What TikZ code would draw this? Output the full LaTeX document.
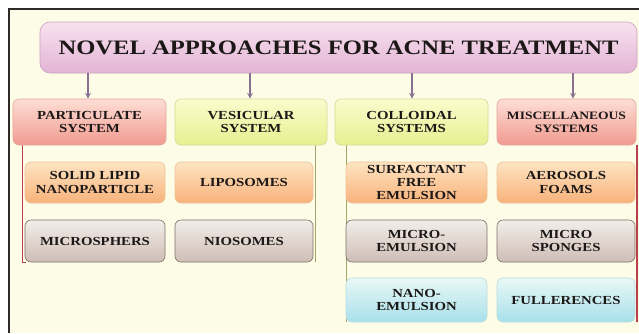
\documentclass[tikz,border=0pt]{standalone}
\usepackage{fontspec}
\usepackage{xcolor}
\usepackage{tikz}
\usetikzlibrary{backgrounds}
\newfontfamily\boxfont{Liberation Serif}[FakeStretch=1.2]
\definecolor{CreamBg}{HTML}{FDFCE6}
\definecolor{FrameDark}{HTML}{2E2A28}
\definecolor{TextDark}{HTML}{1C1818}
\definecolor{TitleTop}{HTML}{F8E2EF}
\definecolor{TitleBot}{HTML}{E2B4D4}
\definecolor{TitleRim}{HTML}{C9A3C0}
\definecolor{RedTop}{HTML}{FDDED4}
\definecolor{RedBot}{HTML}{F29A90}
\definecolor{RedRim}{HTML}{E6A69E}
\definecolor{YelTop}{HTML}{FAFCCC}
\definecolor{YelBot}{HTML}{E6F090}
\definecolor{YelRim}{HTML}{D6DA9A}
\definecolor{OrgTop}{HTML}{FDE4C2}
\definecolor{OrgBot}{HTML}{F8B27A}
\definecolor{OrgRim}{HTML}{EEC49A}
\definecolor{GryTop}{HTML}{F3EDE8}
\definecolor{GryBot}{HTML}{CEBEB6}
\definecolor{GryRim}{HTML}{7C706A}
\definecolor{CyaTop}{HTML}{E8F8F6}
\definecolor{CyaBot}{HTML}{A8E0EA}
\definecolor{CyaRim}{HTML}{B8DCE0}
\definecolor{ArrowGrey}{HTML}{8A7090}
\definecolor{LineRed}{HTML}{B8404C}
\definecolor{LineOlive}{HTML}{A3A468}

\tikzset{
  box/.style={rounded corners=6pt, align=center, inner sep=1pt, line width=0.6pt,
    text=TextDark, font=\boxfont\bfseries\fontsize{12.3}{13.3}\selectfont},
  titlebox/.style={box, rounded corners=10pt, top color=TitleTop, bottom color=TitleBot,
    draw=TitleRim, font=\boxfont\bfseries\fontsize{20.5}{24}\selectfont},
  redbox/.style={box, top color=RedTop, bottom color=RedBot, draw=RedRim},
  redsmall/.style={redbox, font=\boxfont\bfseries\fontsize{11.3}{13}\selectfont},
  yelbox/.style={box, top color=YelTop, bottom color=YelBot, draw=YelRim},
  orgbox/.style={box, top color=OrgTop, bottom color=OrgBot, draw=OrgRim},
  grybox/.style={box, top color=GryTop, bottom color=GryBot, draw=GryRim},
  cyabox/.style={box, top color=CyaTop, bottom color=CyaBot, draw=CyaRim},
  arrowline/.style={->, >=stealth, ArrowGrey, line width=1.6pt},
  treeline/.style={line width=1.4pt}
}

\begin{document}
\begin{tikzpicture}[x=1pt, y=-1pt]
  \useasboundingbox (0,0) rectangle (639,333);

  \node[titlebox, minimum width=597pt, minimum height=51pt] (title) at (338.5,47.5) {NOVEL APPROACHES FOR ACNE TREATMENT};

  \foreach \name/\x/\y/\w/\h/\look/\txt in {
      part/89.5/122/153/46/redbox/{PARTICULATE\\SYSTEM},
      vesi/251/122/152/46/yelbox/{VESICULAR\\SYSTEM},
      coll/411.5/122/153/46/yelbox/{COLLOIDAL\\SYSTEMS},
      misc/566.5/122/139/46/redsmall/{MISCELLANEOUS\\SYSTEMS},
      sln/95/182.5/140/41/orgbox/{SOLID LIPID\\NANOPARTICLE},
      lipo/244/182.5/138/41/orgbox/{LIPOSOMES},
      sfe/416.5/182.5/141/41/orgbox/{SURFACTANT\\FREE\\EMULSION},
      aero/566/182.5/138/41/orgbox/{AEROSOLS\\FOAMS},
      micros/95/241/140/42/grybox/{MICROSPHERS},
      nio/244/241/138/42/grybox/{NIOSOMES},
      memul/416.5/241/141/42/grybox/{MICRO-\\EMULSION},
      mspong/566/241/138/42/grybox/{MICRO\\SPONGES},
      nemul/416.5/300/141/44/cyabox/{NANO-\\EMULSION},
      fuller/566/300/138/44/cyabox/{FULLERENCES}}
    \node[\look, minimum width=\w pt, minimum height=\h pt] (\name) at (\x,\y) {\txt};

  % arrows from the title
  \foreach \b/\x in {part/88, vesi/250, coll/412, misc/573}
    \draw[arrowline] (\x,0 |- title.south) -- (\x,0 |- \b.north);

  \begin{scope}[on background layer]
    \fill[CreamBg] (9,9) rectangle (639,333);
    \draw[FrameDark, line width=1.2pt] (9,333) -- (9,9) -- (639,9);
    \draw[treeline, LineRed] ([xshift=-2pt]part.south -| micros.west) -- ([xshift=-2pt]micros.south west) -- ++(3,0);
    \draw[treeline, LineOlive] ([xshift=2pt]vesi.south -| nio.east) -- ([xshift=2pt]nio.south east);
    \draw[treeline, LineOlive] ([xshift=1pt]coll.south -| nemul.west) -- ([xshift=1pt]nemul.south west);
    \draw[treeline, LineRed, line width=2pt] ([xshift=2pt]misc.south -| fuller.east) -- ([xshift=2pt]fuller.south east);
  \end{scope}
\end{tikzpicture}
\end{document}
